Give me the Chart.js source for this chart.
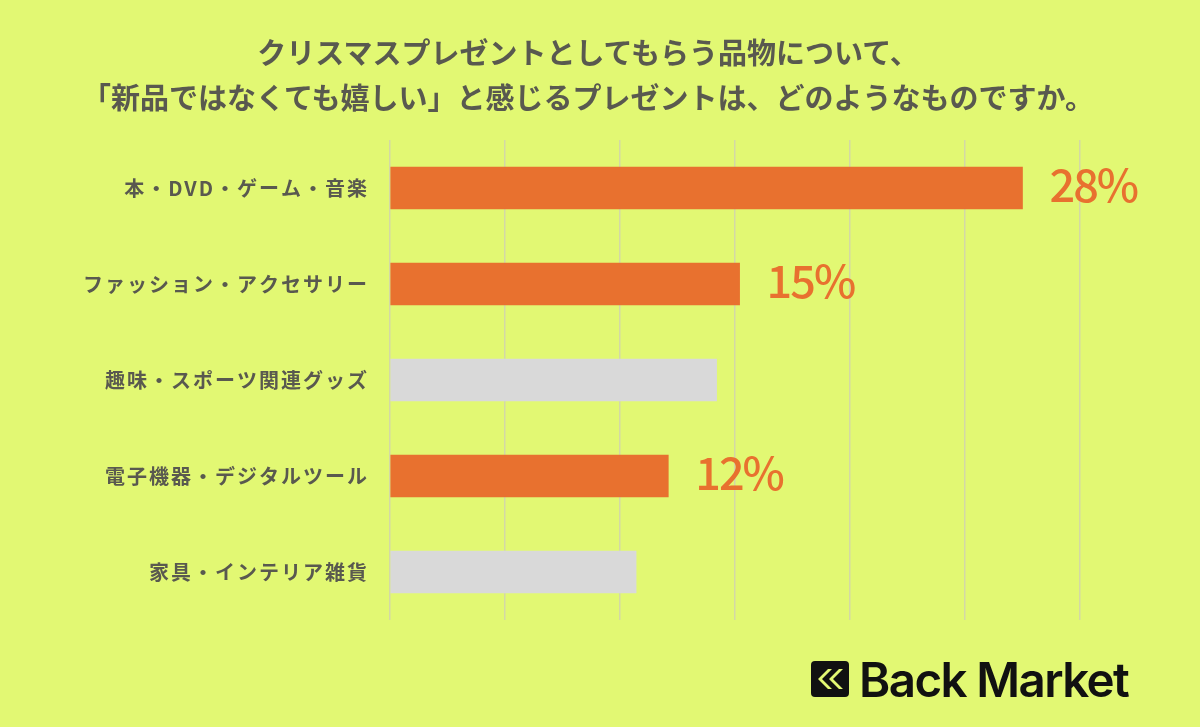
<!DOCTYPE html>
<html>
<head>
<meta charset="utf-8">
<script src="https://cdn.jsdelivr.net/npm/chart.js@4/dist/chart.umd.min.js"></script>
<style>
	html, body { margin: 0; padding: 0; background: #e2f873; }
	#wrap { position: relative; width: 1200px; height: 727px; overflow: hidden; }
	#chart1 { position: absolute; left: 0; top: 0; }
	#title {
		position: absolute; left: 0; top: 29px; width: 1176px;
		text-align: center; margin: 0;
		font-family: "Noto Sans CJK JP", sans-serif; font-weight: 700;
		font-size: 29px; line-height: 45px; color: #59594f;
	}
	#logo {
		position: absolute; left: 811px; top: 652px; height: 54px;
		display: flex; align-items: center; color: #111;
		font-family: Inter, sans-serif; font-weight: 600; font-size: 47.5px;
		letter-spacing: -1.6px;
	}
	#logo svg { margin-right: 10px; }
</style>
</head>
<body>
<div id="wrap">
	<canvas id="chart1" width="1200" height="727"></canvas>
	<h1 id="title">クリスマスプレゼントとしてもらう品物について、<br>「新品ではなくても嬉しい」と感じるプレゼントは、どのようなものですか。</h1>
	<div id="logo">
		<svg width="38" height="36" viewBox="0 0 38 36">
			<rect x="0" y="0" width="38" height="36" rx="4" fill="#111"/>
			<path d="M17 8 L7 18 L17 28 L21 28 L11 18 L21 8 Z" fill="#e2f873"/>
			<path d="M28 8 L18 18 L28 28 L32 28 L22 18 L32 8 Z" fill="#e2f873"/>
		</svg>
		<span>Back Market</span>
	</div>
</div>
<script>
//categories (top to bottom)
var categories = [
	"本・DVD・ゲーム・音楽",
	"ファッション・アクセサリー",
	"趣味・スポーツ関連グッズ",
	"電子機器・デジタルツール",
	"家具・インテリア雑貨"
];
//bar lengths (percent)
var values = [27.5, 15.2, 14.2, 12.1, 10.7];
//labels printed next to the bars (empty = no label)
var valueLabels = ["28%", "15%", "", "12%", ""];
//x axis range / grid step
var axisMax = 30;
var axisStep = 5;

var orange = "#e8712f";
var gray = "#d9d9d9";
var textColor = "#59594f";

//colour bars that have a printed label orange, rest gray
var barColors = valueLabels.map(function(l){ return l ? orange : gray; });

//plugin to draw the big percent labels at the end of the bars
var valueLabelPlugin = {
	id: "valueLabels",
	afterDatasetsDraw: function(chart){
		var ctx = chart.ctx;
		var meta = chart.getDatasetMeta(0);
		ctx.save();
		ctx.font = "500 45px 'Noto Sans CJK JP'";
		ctx.letterSpacing = "-2px";
		ctx.fillStyle = orange;
		ctx.textAlign = "left";
		ctx.textBaseline = "alphabetic";
		for(var i = 0; i < meta.data.length; i++){
			if(!valueLabels[i]) continue;
			var bar = meta.data[i];
			ctx.fillText(valueLabels[i], bar.x + 27, bar.y + 14);
		}
		ctx.restore();
	}
};

//spread out the category labels a bit like the original
var spacingPlugin = {
	id: "spacing",
	beforeDraw: function(chart){ chart.ctx.letterSpacing = "2px"; },
	beforeDatasetsDraw: function(chart){ chart.ctx.letterSpacing = "0px"; }
};

var chart = new Chart(document.getElementById("chart1"), {
	type: "bar",
	data: {
		labels: categories,
		datasets: [{
			data: values,
			backgroundColor: barColors,
			borderWidth: 0,
			barThickness: 42
		}]
	},
	options: {
		indexAxis: "y",
		responsive: false,
		animation: false,
		layout: { padding: { top: 140, bottom: 107, right: 120, left: 0 } },
		plugins: { legend: { display: false }, tooltip: { enabled: false } },
		scales: {
			x: {
				min: 0, max: axisMax,
				ticks: { display: false, stepSize: axisStep },
				grid: { color: "#d3d8a6", lineWidth: 1.5, drawTicks: false },
				border: { display: false }
			},
			y: {
				afterFit: function(scale){ scale.width = 390; },
				ticks: {
					color: textColor,
					padding: 21,
					font: { family: "'Noto Sans CJK JP'", size: 20, weight: "bold" }
				},
				grid: { display: false, drawTicks: false },
				border: { display: false }
			}
		}
	},
	plugins: [valueLabelPlugin, spacingPlugin]
});
</script>
</body>
</html>
